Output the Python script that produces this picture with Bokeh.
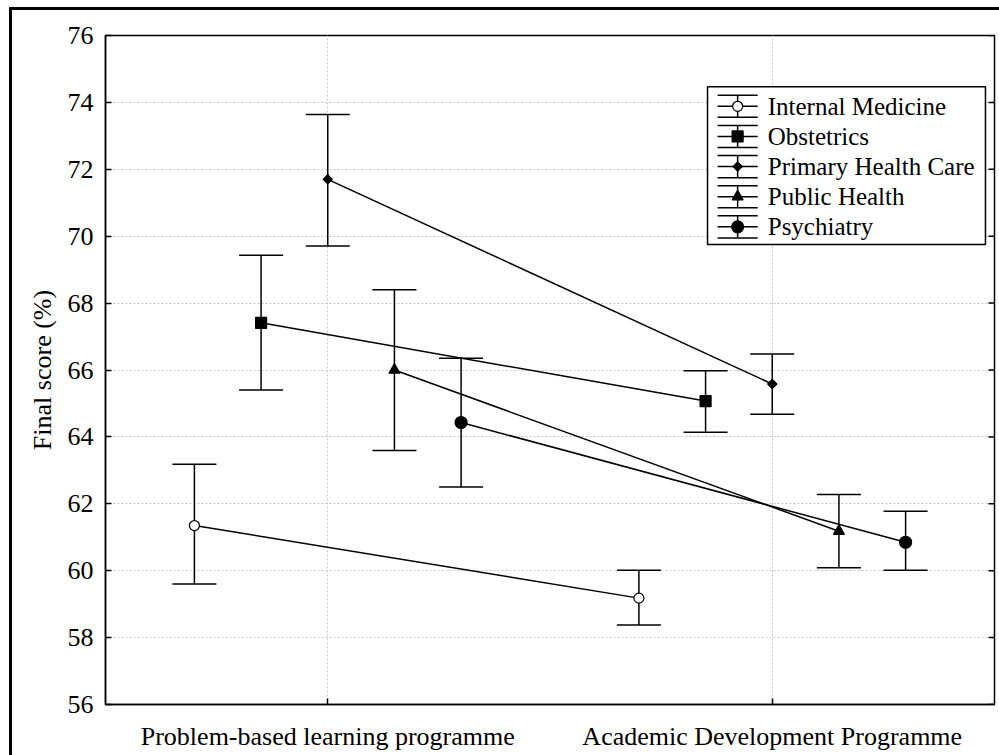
import math
from bokeh.plotting import figure
from bokeh.models import (Range1d, Whisker, TeeHead, FixedTicker,
                          ColumnDataSource, SingleIntervalTicker)
from bokeh.core.properties import value
from bokeh.embed import file_html
from bokeh.resources import INLINE

# ---------------- data ----------------
programmes = ["Problem-based learning programme", "Academic Development Programme"]
departments = ["Internal Medicine", "Obstetrics", "Primary Health Care", "Public Health", "Psychiatry"]

internal_medicine_mean = [61.35, 59.18]
internal_medicine_low = [59.60, 58.38]
internal_medicine_high = [63.18, 60.01]

obstetrics_mean = [67.41, 65.07]
obstetrics_low = [65.40, 64.14]
obstetrics_high = [69.43, 65.98]

primary_health_care_mean = [71.70, 65.58]
primary_health_care_low = [69.71, 64.68]
primary_health_care_high = [73.64, 66.48]

public_health_mean = [66.00, 61.18]
public_health_low = [63.59, 60.09]
public_health_high = [68.40, 62.28]

psychiatry_mean = [64.43, 60.85]
psychiatry_low = [62.50, 60.01]
psychiatry_high = [66.35, 61.78]

y_ticks = [56, 58, 60, 62, 64, 66, 68, 70, 72, 74, 76]

series = [
    (internal_medicine_mean, internal_medicine_low, internal_medicine_high),
    (obstetrics_mean, obstetrics_low, obstetrics_high),
    (primary_health_care_mean, primary_health_care_low, primary_health_care_high),
    (public_health_mean, public_health_low, public_health_high),
    (psychiatry_mean, psychiatry_low, psychiatry_high),
]

# ---------------- styles ----------------
prog_pos = [i + 0.5 for i in range(len(programmes))]   # category centres
dodge_offsets = [-0.3, -0.15, 0.0, 0.15, 0.3]
markers = [
    dict(marker="circle", size=10, fill_color="white", angle=0.0),
    dict(marker="square", size=11, fill_color="black", angle=0.0),
    dict(marker="square", size=6.5, fill_color="black", angle=math.pi / 4),
    dict(marker="triangle", size=11, fill_color="black", angle=0.0),
    dict(marker="circle", size=12, fill_color="black", angle=0.0),
]
FONT = "Liberation Serif"

p = figure(width=987, height=745, x_range=Range1d(0, len(programmes)),
           y_range=Range1d(56, 76), output_backend="svg", toolbar_location=None,
           min_border_left=93, min_border_right=8, min_border_top=25, min_border_bottom=54)
p.styles = {"margin-left": "9px", "margin-top": "7px",
            "border-left": "3px solid black", "border-top": "3px solid black",
            "box-sizing": "content-box"}

p.outline_line_color = "black"
p.outline_line_width = 1.5

p.xaxis.ticker = FixedTicker(ticks=prog_pos)
p.xaxis.major_label_overrides = {pos: name for pos, name in zip(prog_pos, programmes)}
p.yaxis.ticker = FixedTicker(ticks=y_ticks)
for ax in (p.xaxis[0], p.yaxis[0]):
    ax.axis_line_color = "black"
    ax.axis_line_width = 1.5
    ax.major_tick_in = 6
    ax.major_tick_out = 0
    ax.minor_tick_line_color = None
    ax.major_tick_line_width = 1.5
    ax.major_label_text_font = FONT
    ax.major_label_text_font_size = "26px"
    ax.major_label_text_color = "black"
    ax.axis_label_text_font = FONT
    ax.axis_label_text_font_size = "26px"
    ax.axis_label_text_font_style = "normal"
    ax.axis_label_text_color = "black"
p.yaxis.axis_label = "Final score (%)"
p.yaxis.major_label_standoff = 12
p.yaxis.axis_label_standoff = 8
p.xaxis.major_label_standoff = 17

p.xgrid.ticker = FixedTicker(ticks=prog_pos)
p.ygrid.ticker = FixedTicker(ticks=y_ticks)
for g in (p.xgrid[0], p.ygrid[0]):
    g.grid_line_color = "#c4c4c4"
    g.grid_line_dash = "2 2"
    g.grid_line_width = 1

for (mean, low, high), off, mk in zip(series, dodge_offsets, markers):
    xs = [x + off for x in prog_pos]
    src = ColumnDataSource(dict(x=xs, mean=mean, low=low, high=high))
    p.line(x="x", y="mean", source=src, line_color="black", line_width=1.5)
    w = Whisker(base="x", upper="high", lower="low", source=src, dimension="height",
                line_color="black", line_width=1.5,
                upper_head=TeeHead(size=44, line_color="black", line_width=1.5),
                lower_head=TeeHead(size=44, line_color="black", line_width=1.5))
    p.add_layout(w)
    p.scatter(x="x", y="mean", source=src, marker=mk["marker"], size=mk["size"],
              angle=mk["angle"], fill_color=mk["fill_color"], line_color="black",
              line_width=1.2)

# ---------------- frame-pixel space for right-side ticks and legend ----------------
p.extra_x_ranges = {"px": Range1d(0, 886)}
p.extra_y_ranges = {"px": Range1d(0, 666)}

# inward ticks on the right frame edge
p.segment(x0=[880] * len(y_ticks), x1=[886] * len(y_ticks), y0=y_ticks, y1=y_ticks,
          x_range_name="px", line_color="black", line_width=1.5)

# legend
p.quad(left=600, right=877, bottom=458, top=615, x_range_name="px", y_range_name="px",
       fill_color="white", line_color="black", line_width=1.5)
row_y = [595.5 - 30 * i for i in range(len(departments))]
sx, half_w, cap = 630, 20, 11
p.segment(x0=[sx - half_w] * 5, x1=[sx + half_w] * 5, y0=row_y, y1=row_y,
          x_range_name="px", y_range_name="px", line_color="black", line_width=1.5)
p.segment(x0=[sx - half_w] * 10, x1=[sx + half_w] * 10,
          y0=[y + cap for y in row_y] + [y - cap for y in row_y],
          y1=[y + cap for y in row_y] + [y - cap for y in row_y],
          x_range_name="px", y_range_name="px", line_color="black", line_width=1.5)
p.segment(x0=[sx] * 5, x1=[sx] * 5, y0=[y - cap for y in row_y],
          y1=[y + cap for y in row_y], x_range_name="px", y_range_name="px",
          line_color="black", line_width=1.5)
for y, mk in zip(row_y, markers):
    p.scatter(x=[sx], y=[y], marker=mk["marker"], size=mk["size"], angle=mk["angle"],
              fill_color=mk["fill_color"], line_color="black", line_width=1.2,
              x_range_name="px", y_range_name="px")
p.text(x=[sx + 30] * 5, y=row_y, text=departments, x_range_name="px", y_range_name="px",
       text_font=value(FONT), text_font_size="25px", text_baseline="middle",
       text_align="left", text_color="black")

open("out.html", "w").write(file_html(p, INLINE))
